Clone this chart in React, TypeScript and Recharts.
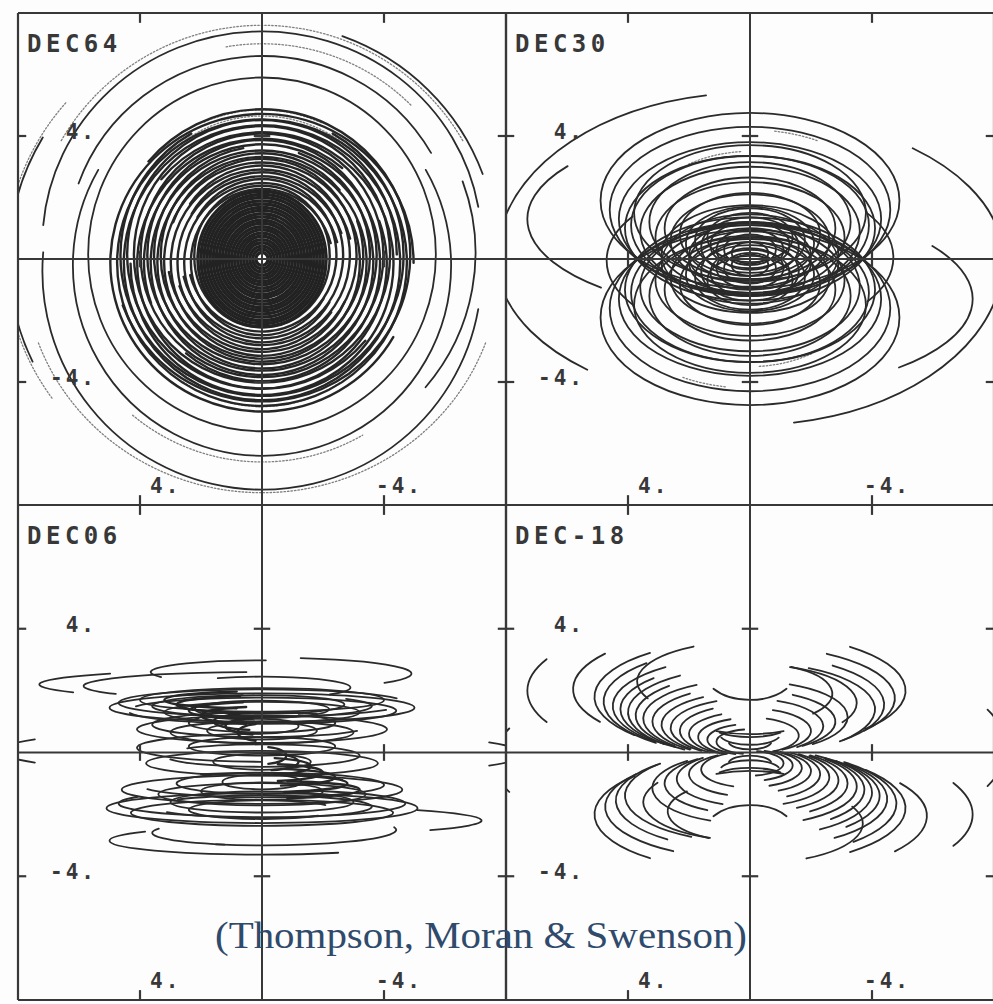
import React from 'react';
import { ScatterChart, XAxis, YAxis, ReferenceArea, ReferenceLine, ReferenceDot } from 'recharts';

// One uv track arc: [v0, a, b, from, to]
// Ellipse centred on the v axis at v0, semi-axis a along u and b along v (units of 1000 wavelengths).
// Angles in degrees, measured on the plot counter-clockwise from its right-hand side.
type Track = [number, number, number, number, number];

const panelTitles = ['DEC64', 'DEC30', 'DEC06', 'DEC-18'];
const tickValues = [4, -4];
const tickLabels = ['4.', '-4.'];
const creditText = '(Thompson, Moran & Swenson)';

// ---------- DEC 64 ----------
const dec64Core: Track[] = [
  [0, 0.2, 0.21, 0, 360],
  [0, 0.3, 0.32, 0, 360],
  [0, 0.4, 0.42, 0, 360],
  [0, 0.5, 0.53, 0, 360],
  [0, 0.6, 0.63, 0, 360],
  [0, 0.7, 0.74, 0, 360],
  [0, 0.8, 0.84, 0, 360],
  [0, 0.9, 0.95, 0, 360],
  [0, 1.0, 1.05, 0, 360],
  [0, 1.1, 1.16, 0, 360],
  [0, 1.2, 1.26, 0, 360],
  [0, 1.3, 1.37, 0, 360],
  [0, 1.4, 1.47, 0, 360],
  [0, 1.5, 1.58, 0, 360],
  [0, 1.6, 1.68, 0, 360],
  [0, 1.7, 1.79, 0, 360],
  [0, 1.8, 1.89, 0, 360],
  [0, 1.9, 2.0, 0, 360],
  [0, 2.0, 2.1, 0, 360],
  [0, 2.1, 2.2, 0, 360],
];

const dec64Dense: Track[] = [
  [0.08, 2.22, 2.3, 0, 360],
  [-0.1, 2.33, 2.38, 15, 330],
  [0.12, 2.44, 2.48, 195, 510],
  [-0.12, 2.55, 2.59, 15, 330],
  [0.12, 2.66, 2.7, 195, 510],
  [-0.12, 2.77, 2.81, 20, 325],
  [0.12, 2.88, 2.92, 200, 505],
  [-0.12, 2.99, 3.03, 15, 335],
  [0.12, 3.1, 3.14, 190, 520],
  [-0.1, 3.21, 3.24, 0, 360],
  [0.1, 3.32, 3.34, 40, 380],
  [-0.12, 3.43, 3.44, 0, 360],
  [0.12, 3.54, 3.54, 100, 430],
  [-0.12, 3.65, 3.65, 0, 360],
  [0.12, 3.76, 3.75, 0, 360],
  [-0.12, 3.87, 3.85, 230, 560],
  [0.12, 3.98, 3.96, 0, 360],
  [-0.15, 4.09, 4.06, 50, 380],
  [0.15, 4.2, 4.17, 0, 360],
  [-0.15, 4.31, 4.27, 180, 500],
  [0.15, 4.42, 4.37, 0, 320],
  [-0.12, 4.53, 4.47, 0, 360],
  [0.12, 4.64, 4.57, 120, 420],
  [-0.12, 4.75, 4.66, 0, 360],
  [0.12, 4.86, 4.75, 200, 500],
  [-0.12, 4.97, 4.84, 0, 330],
];

const dec64Outer: Track[] = [
  [0.15, 5.7, 5.75, 0, 360],
  [-0.2, 6.2, 6.2, 150, 390],
  [0.3, 6.4, 6.3, 30, 160],
  [0.5, 7.2, 6.9, 10, 175],
  [-0.4, 7.2, 7.1, 175, 350],
  [0.2, 7.7, 7.5, 20, 70],
  [0.0, 8.3, 7.9, 150, 205],
  [0.2, 7.0, 6.8, -40, 20],
];

const dec64Faint: Track[] = [
  [-0.3, 4.35, 4.3, 230, 310],
  [-0.35, 4.5, 4.45, 235, 305],
  [0.3, 4.4, 4.35, 55, 125],
  [0.35, 4.6, 4.5, 65, 115],
  [0.1, 7.6, 7.5, 30, 150],
  [-0.2, 7.8, 7.4, 200, 340],
  [0.2, 6.9, 6.8, 45, 100],
  [-0.1, 6.6, 6.5, 230, 300],
  [0.0, 8.4, 7.9, 140, 215],
];

// ---------- DEC 30 ----------
const dec30Tracks: Track[] = [
  [1.9, 4.9, 2.85, 0, 360],
  [1.6, 4.6, 2.7, 0, 360],
  [1.3, 4.3, 2.5, 0, 360],
  [1.0, 4.1, 2.35, 0, 360],
  [1.5, 3.8, 2.2, 0, 360],
  [0.9, 3.6, 2.1, 0, 360],
  [1.2, 3.3, 1.95, 0, 360],
  [0.7, 3.1, 1.8, 0, 360],
  [1.0, 2.8, 1.65, 0, 360],
  [0.6, 2.6, 1.5, 0, 360],
  [0.8, 2.3, 1.35, 0, 360],
  [0.5, 2.1, 1.2, 0, 360],
  [0.6, 1.8, 1.05, 0, 360],
  [0.4, 1.6, 0.95, 0, 360],
  [0.45, 1.3, 0.75, 0, 360],
  [0.3, 1.1, 0.65, 0, 360],
  [0.3, 0.85, 0.5, 0, 360],
  [0.2, 0.6, 0.35, 0, 360],
  [-1.9, 4.9, 2.85, 0, 360],
  [-1.6, 4.6, 2.7, 0, 360],
  [-1.3, 4.3, 2.5, 0, 360],
  [-1.0, 4.1, 2.35, 0, 360],
  [-1.5, 3.8, 2.2, 0, 360],
  [-0.9, 3.6, 2.1, 0, 360],
  [-1.2, 3.3, 1.95, 0, 360],
  [-0.7, 3.1, 1.8, 0, 360],
  [-1.0, 2.8, 1.65, 0, 360],
  [-0.6, 2.6, 1.5, 0, 360],
  [-0.8, 2.3, 1.35, 0, 360],
  [-0.5, 2.1, 1.2, 0, 360],
  [-0.6, 1.8, 1.05, 0, 360],
  [-0.4, 1.6, 0.95, 0, 360],
  [-0.45, 1.3, 0.75, 0, 360],
  [-0.3, 1.1, 0.65, 0, 360],
  [-0.3, 0.85, 0.5, 0, 360],
  [-0.2, 0.6, 0.35, 0, 360],
  [0.15, 2.9, 1.6, 0, 360],
  [-0.15, 2.9, 1.6, 0, 360],
  [0.1, 2.0, 1.1, 0, 360],
  [-0.1, 2.0, 1.1, 0, 360],
  [0.7, 1.4, 0.8, 0, 360],
  [-0.7, 1.4, 0.8, 0, 360],
  [1.1, 3.9, 2.25, 0, 360],
  [-1.1, 3.9, 2.25, 0, 360],
  [0.05, 4.7, 2.5, -35, 35],
  [-0.05, 4.7, 2.5, 145, 215],
  [0.0, 8.3, 5.4, 100, 170],
  [0.0, 8.3, 5.4, 280, 350],
  [0.0, 8.3, 4.7, 10, 50],
  [0.0, 8.3, 4.7, 190, 230],
  [1.3, 7.3, 3.0, 145, 228],
  [-1.3, 7.3, 3.0, -48, 35],
];

const dec30Faint: Track[] = [
  [1.2, 3.5, 2.3, 95, 125],
  [-1.2, 3.5, 2.3, 275, 305],
  [1.6, 4.4, 2.6, 60, 80],
  [-1.6, 4.4, 2.6, 240, 260],
];

// ---------- DEC 06 ----------
const dec06Tracks: Track[] = [
  // top row
  [2.2, 7.3, 0.48, 133, 212],
  [2.6, 3.65, 0.38, 88, 205],
  [2.55, 4.9, 0.52, -35, 75],
  [2.15, 5.85, 0.45, 95, 215],
  [2.1, 2.9, 0.35, -40, 120],
  // upper dense row
  [1.45, 5.0, 0.46, 0, 360],
  [1.6, 4.7, 0.44, 20, 330],
  [1.35, 4.4, 0.42, 190, 520],
  [1.7, 4.0, 0.38, 0, 360],
  [1.5, 3.6, 0.36, 100, 400],
  [1.3, 3.2, 0.34, 0, 360],
  [1.55, 2.7, 0.3, 200, 480],
  [1.4, 2.2, 0.28, 0, 360],
  // row above the axis
  [0.75, 4.1, 0.44, 0, 360],
  [0.9, 3.6, 0.4, 60, 330],
  [0.65, 3.0, 0.36, 0, 360],
  [0.95, 2.4, 0.3, 150, 420],
  [0.7, 1.8, 0.28, 0, 360],
  [0.85, 1.2, 0.24, 0, 360],
  // around the axis
  [-0.35, 3.8, 0.4, 0, 360],
  [0.15, 4.1, 0.45, 90, 270],
  [-0.1, 3.2, 0.36, 200, 500],
  [0.2, 2.4, 0.3, 0, 360],
  [-0.3, 1.6, 0.26, 0, 360],
  [0.05, 8.6, 0.75, 150, 210],
  [-0.05, 8.6, 0.75, 330, 390],
  // row below the axis
  [-1.2, 4.6, 0.46, 0, 360],
  [-1.05, 4.0, 0.4, 200, 480],
  [-1.35, 3.4, 0.36, 0, 360],
  [-1.0, 2.8, 0.34, 20, 300],
  [-1.25, 2.0, 0.28, 0, 360],
  [-0.95, 1.3, 0.24, 0, 360],
  // lower dense row
  [-1.8, 5.1, 0.48, 0, 360],
  [-1.65, 4.7, 0.44, 150, 430],
  [-1.95, 4.3, 0.42, 0, 360],
  [-1.75, 3.6, 0.36, 210, 500],
  [-1.6, 3.0, 0.34, 0, 360],
  [-1.85, 2.4, 0.3, 30, 320],
  // bottom row
  [-2.85, 5.0, 0.45, 140, 300],
  [-2.2, 7.2, 0.48, -40, 45],
  [-2.5, 4.4, 0.5, 250, 370],
  [-2.6, 3.6, 0.4, 160, 250],
];

// track ends crowding along the diagonal band through the centre
const dec06Band: Track[] = [
  [0.65, 0.8, 0.28, 105, 255],
  [0.85, 1.2, 0.28, 105, 255],
  [1.0, 1.6, 0.28, 105, 255],
  [1.2, 2.0, 0.28, 105, 255],
  [1.35, 2.4, 0.28, 105, 255],
  [1.55, 2.8, 0.28, 105, 255],
  [1.7, 3.2, 0.28, 105, 255],
  [-0.1, 0.8, 0.28, -75, 75],
  [-0.3, 1.2, 0.28, -75, 75],
  [-0.45, 1.6, 0.28, -75, 75],
  [-0.65, 2.0, 0.28, -75, 75],
  [-0.8, 2.4, 0.28, -75, 75],
  [-1.0, 2.8, 0.28, -75, 75],
  [-1.2, 3.2, 0.28, -75, 75],
];

// ---------- DEC -18 ----------
const dec18Tracks: Track[] = [
  // upper-left wing
  [2.0, 7.3, 2.5, 156, 204],
  [2.05, 5.8, 2.0, 145, 212],
  [1.8, 5.1, 1.85, 130, 222],
  [1.65, 4.8, 1.75, 135, 230],
  [1.5, 4.5, 1.6, 128, 226],
  [1.4, 4.25, 1.5, 138, 235],
  [2.3, 3.7, 1.3, 120, 205],
  [1.3, 4.0, 1.45, 125, 225],
  [1.2, 3.75, 1.35, 135, 235],
  [1.1, 3.5, 1.25, 120, 225],
  [1.0, 3.2, 1.15, 128, 232],
  [0.9, 2.9, 1.05, 122, 228],
  [0.8, 2.6, 0.95, 115, 232],
  [0.7, 2.3, 0.85, 122, 235],
  [0.6, 2.0, 0.72, 118, 240],
  [0.5, 1.7, 0.62, 112, 242],
  [0.42, 1.4, 0.5, 110, 250],
  [0.35, 1.1, 0.4, 100, 258],
  // lower-right wing
  [-2.0, 7.3, 2.5, -24, 24],
  [-2.05, 5.8, 2.0, -35, 32],
  [-1.8, 5.1, 1.85, -50, 42],
  [-1.65, 4.8, 1.75, -45, 50],
  [-1.5, 4.5, 1.6, -52, 46],
  [-1.4, 4.25, 1.5, -42, 55],
  [-2.3, 3.7, 1.3, -60, 25],
  [-1.3, 4.0, 1.45, -55, 45],
  [-1.2, 3.75, 1.35, -45, 55],
  [-1.1, 3.5, 1.25, -60, 45],
  [-1.0, 3.2, 1.15, -52, 52],
  [-0.9, 2.9, 1.05, -58, 48],
  [-0.8, 2.6, 0.95, -65, 52],
  [-0.7, 2.3, 0.85, -58, 55],
  [-0.6, 2.0, 0.72, -62, 60],
  [-0.5, 1.7, 0.62, -68, 62],
  [-0.42, 1.4, 0.5, -70, 70],
  [-0.35, 1.1, 0.4, -80, 78],
  // upper-right wing
  [2.0, 5.1, 1.85, -42, 50],
  [1.75, 4.75, 1.7, -38, 58],
  [1.55, 4.4, 1.6, -48, 52],
  [1.4, 4.1, 1.5, -42, 62],
  [1.6, 3.5, 1.25, -30, 68],
  [1.9, 2.7, 1.0, -40, 60],
  [1.15, 3.2, 1.15, -50, 66],
  [1.0, 2.8, 1.0, -52, 60],
  [0.85, 2.4, 0.88, -50, 68],
  [0.7, 2.0, 0.72, -58, 68],
  [0.55, 1.6, 0.58, -62, 70],
  // lower-left wing
  [-2.0, 5.1, 1.85, 138, 230],
  [-1.75, 4.75, 1.7, 142, 238],
  [-1.55, 4.4, 1.6, 132, 232],
  [-1.4, 4.1, 1.5, 138, 242],
  [-1.6, 3.5, 1.25, 150, 248],
  [-1.9, 2.7, 1.0, 140, 240],
  [-1.15, 3.2, 1.15, 130, 246],
  [-1.0, 2.8, 1.0, 128, 240],
  [-0.85, 2.4, 0.88, 130, 248],
  [-0.7, 2.0, 0.72, 122, 248],
  [-0.55, 1.6, 0.58, 118, 250],
  // centre
  [2.6, 1.5, 0.9, 217, 323],
  [-2.6, 1.5, 0.9, 37, 143],
  [0.6, 1.0, 0.35, 200, 340],
  [-0.6, 1.0, 0.35, 20, 160],
  [0.35, 0.7, 0.25, 190, 350],
  [-0.35, 0.7, 0.25, 10, 170],
  [0.9, 1.3, 0.4, 220, 320],
  [-0.9, 1.3, 0.4, 40, 140],
  [1.3, 2.2, 0.7, 240, 300],
  [-1.3, 2.2, 0.7, 60, 120],
  // beyond the panel edges
  [-0.25, 8.4, 3.0, 160, 200],
  [0.15, 8.4, 3.3, -22, 22],
];

// ---------- drawing ----------
type Look = { stroke: string; width: number; dash?: string };
const LOOK: Record<string, Look> = {
  core: { stroke: '#222222', width: 3.4 },
  dense: { stroke: '#262626', width: 2.4 },
  band: { stroke: '#262626', width: 2.3 },
  track: { stroke: '#2a2a2a', width: 1.8 },
  faint: { stroke: '#808080', width: 1.3, dash: '1.5 2' },
};
const INK = '#383838';
const LIMIT = 8;
const M = 3;

function TrackArc(props: any) {
  const { x, y, width, height, from, to, look, clipPath } = props;
  if (![x, y, width, height].every((n: number) => Number.isFinite(n))) return null;
  const rx = width / 2;
  const ry = height / 2;
  const cx = x + rx;
  const cy = y + ry;
  const at = (deg: number) => {
    const t = (deg * Math.PI) / 180;
    return `${cx + rx * Math.cos(t)},${cy - ry * Math.sin(t)}`;
  };
  const span = to - from;
  const d =
    span >= 360
      ? `M${at(0)} A${rx},${ry} 0 1 0 ${at(180)} A${rx},${ry} 0 1 0 ${at(360)}`
      : `M${at(from)} A${rx},${ry} 0 ${span > 180 ? 1 : 0} 0 ${at(to)}`;
  return (
    <path
      d={d}
      fill="none"
      stroke={look.stroke}
      strokeWidth={look.width}
      strokeDasharray={look.dash}
      strokeLinecap="round"
      clipPath={clipPath}
    />
  );
}

const trackAreas = (tracks: Track[], look: Look, prefix: string) =>
  tracks.map(([v0, a, b, from, to], i) => (
    <ReferenceArea
      key={`${prefix}-${i}`}
      x1={-a}
      x2={a}
      y1={v0 - b}
      y2={v0 + b}
      ifOverflow="hidden"
      shape={(p: any) => <TrackArc {...p} from={from} to={to} look={look} />}
    />
  ));

const Mark = ({ cx, cy, text, dx, dy, anchor, size, spacing }: any) => (
  <text
    x={cx + dx}
    y={cy + dy}
    textAnchor={anchor}
    fontFamily="'DejaVu Sans Mono', monospace"
    fontWeight="bold"
    fontSize={size}
    letterSpacing={spacing}
    fill={INK}
  >
    {text}
  </text>
);

type Layer = { tracks: Track[]; look: Look };

function Panel({ title, layers, left, top, width, height }: { title: string; layers: Layer[]; left: number; top: number; width: number; height: number }) {
  const seg = (p: [number, number], q: [number, number]) => [
    { x: p[0], y: p[1] },
    { x: q[0], y: q[1] },
  ];
  const tickSegs: any[] = [];
  tickValues.forEach((t) => {
    tickSegs.push(seg([t, LIMIT], [t, LIMIT - 0.32]));
    tickSegs.push(seg([t, -LIMIT], [t, -LIMIT + 0.32]));
    tickSegs.push(seg([LIMIT, t], [LIMIT - 0.27, t]));
    tickSegs.push(seg([-LIMIT, t], [-LIMIT + 0.27, t]));
    tickSegs.push(seg([t, -0.27], [t, 0.27]));
    tickSegs.push(seg([-0.27, t], [0.27, t]));
  });
  return (
    <div style={{ position: 'absolute', left: left - M, top: top - M }}>
      <ScatterChart width={width + 2 * M} height={height + 2 * M} margin={{ top: M, right: M, bottom: M, left: M }}>
        <XAxis type="number" dataKey="u" domain={[-LIMIT, LIMIT]} reversed hide allowDataOverflow />
        <YAxis type="number" dataKey="v" domain={[-LIMIT, LIMIT]} hide allowDataOverflow />
        {layers.map((layer, li) => trackAreas(layer.tracks, layer.look, `${title}-${li}`))}
        <ReferenceLine x={0} stroke={INK} strokeWidth={2} />
        <ReferenceLine y={0} stroke={INK} strokeWidth={2} />
        <ReferenceLine x={LIMIT} stroke={INK} strokeWidth={2.2} />
        <ReferenceLine x={-LIMIT} stroke={INK} strokeWidth={2.2} />
        <ReferenceLine y={LIMIT} stroke={INK} strokeWidth={2.2} />
        <ReferenceLine y={-LIMIT} stroke={INK} strokeWidth={2.2} />
        {tickSegs.map((s, i) => (
          <ReferenceLine key={`tick-${i}`} segment={s} stroke={INK} strokeWidth={2.2} />
        ))}
        {tickValues.map((t, i) => (
          <ReferenceDot
            key={`yl-${i}`}
            x={LIMIT}
            y={t}
            r={0}
            shape={(p: any) => <Mark cx={p.cx} cy={p.cy} text={tickLabels[i]} dx={79} dy={3} anchor="end" size={21} spacing={3} />}
          />
        ))}
        {tickValues.map((t, i) => (
          <ReferenceDot
            key={`xl-${i}`}
            x={t}
            y={-LIMIT}
            r={0}
            shape={(p: any) => (
              <Mark cx={p.cx} cy={p.cy} text={tickLabels[i]} dx={t > 0 ? 10 : -8} dy={-12} anchor="start" size={21} spacing={3} />
            )}
          />
        ))}
        <ReferenceDot
          x={LIMIT}
          y={LIMIT}
          r={0}
          shape={(p: any) => <Mark cx={p.cx} cy={p.cy} text={title} dx={9} dy={39} anchor="start" size={24} spacing={4.5} />}
        />
      </ScatterChart>
    </div>
  );
}

export default function App() {
  const panels = [
    {
      layers: [
        { tracks: dec64Faint, look: LOOK.faint },
        { tracks: dec64Outer, look: LOOK.track },
        { tracks: dec64Dense, look: LOOK.dense },
        { tracks: dec64Core, look: LOOK.core },
      ],
      left: 18, top: 13, width: 488, height: 492,
    },
    { layers: [{ tracks: dec30Faint, look: LOOK.faint }, { tracks: dec30Tracks, look: LOOK.track }], left: 506, top: 13, width: 488, height: 492 },
    { layers: [{ tracks: dec06Tracks, look: LOOK.track }, { tracks: dec06Band, look: LOOK.band }], left: 18, top: 505, width: 488, height: 495 },
    { layers: [{ tracks: dec18Tracks, look: LOOK.track }], left: 506, top: 505, width: 488, height: 495 },
  ];
  return (
    <div style={{ position: 'absolute', left: 0, top: 0, width: 993, height: 1004, background: '#fdfdfd', overflow: 'hidden' }}>
      {panels.map((p, i) => (
        <Panel key={panelTitles[i]} title={panelTitles[i]} {...p} />
      ))}
      <svg width={993} height={1004} style={{ position: 'absolute', left: 0, top: 0, pointerEvents: 'none' }}>
        <text
          x={215}
          y={948}
          fontFamily="'Liberation Serif', serif"
          fontSize={38}
          fill="#2f4a6b"
          textLength={532}
          lengthAdjust="spacingAndGlyphs"
        >
          {creditText}
        </text>
      </svg>
    </div>
  );
}
